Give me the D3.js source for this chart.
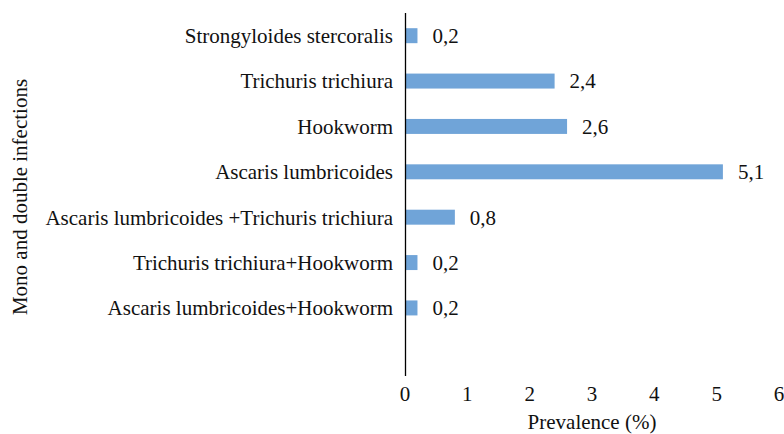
<!DOCTYPE html>
<html><head><meta charset="utf-8">
<script src="https://cdn.jsdelivr.net/npm/d3@7"></script>
<style>body{margin:0;background:#fff}svg{display:block}text{font-family:"Liberation Serif","DejaVu Serif",serif;fill:#111}</style>
</head><body>
<svg id="c" width="784" height="434"></svg>
<script>
const categories = ["Strongyloides stercoralis","Trichuris trichiura","Hookworm","Ascaris lumbricoides","Ascaris lumbricoides +Trichuris trichiura","Trichuris trichiura+Hookworm","Ascaris lumbricoides+Hookworm",""];
const values = [0.2,2.4,2.6,5.1,0.8,0.2,0.2,null];
const valueLabels = ["0,2","2,4","2,6","5,1","0,8","0,2","0,2",""];
const xTicks = [0,1,2,3,4,5,6];

const FS = 21;
const svg = d3.select("#c");
const x = d3.scaleLinear().domain([0,6]).range([405,779]);
const y = d3.scaleBand().domain(categories).range([13,376]).paddingInner(0.67).paddingOuter(0.335);

const data = categories.map((c,i)=>({c, v: values[i], l: valueLabels[i]})).filter(d=>d.v!=null);

svg.selectAll("rect.bar").data(data).enter().append("rect")
  .attr("class","bar")
  .attr("x", x(0)).attr("y", d=>y(d.c))
  .attr("width", d=>x(d.v)-x(0)).attr("height", y.bandwidth())
  .attr("fill","#70a4d8");

svg.selectAll("text.val").data(data).enter().append("text")
  .attr("class","val")
  .attr("x", d=>x(d.v)+15).attr("y", d=>y(d.c)+y.bandwidth()/2)
  .attr("dy","0.35em").attr("font-size",FS).text(d=>d.l);

svg.selectAll("text.cat").data(data).enter().append("text")
  .attr("class","cat")
  .attr("x", 393).attr("y", d=>y(d.c)+y.bandwidth()/2)
  .attr("dy","0.35em").attr("text-anchor","end").attr("font-size",FS).text(d=>d.c);

svg.append("line").attr("x1",x(0)+0.5).attr("x2",x(0)+0.5).attr("y1",13).attr("y2",376)
  .attr("stroke","#000").attr("stroke-width",1.3);

svg.selectAll("text.xt").data(xTicks).enter().append("text")
  .attr("class","xt").attr("x", d=>x(d)).attr("y",394).attr("dy","0.35em")
  .attr("text-anchor","middle").attr("font-size",FS).text(d=>d);

svg.append("text").attr("x",592).attr("y",429).attr("text-anchor","middle")
  .attr("font-size",FS).text("Prevalence (%)");

svg.append("text").attr("transform","translate(20,197) rotate(-90)").attr("dy","0.35em")
  .attr("text-anchor","middle").attr("font-size",FS).text("Mono and double infections");
</script>
</body></html>
